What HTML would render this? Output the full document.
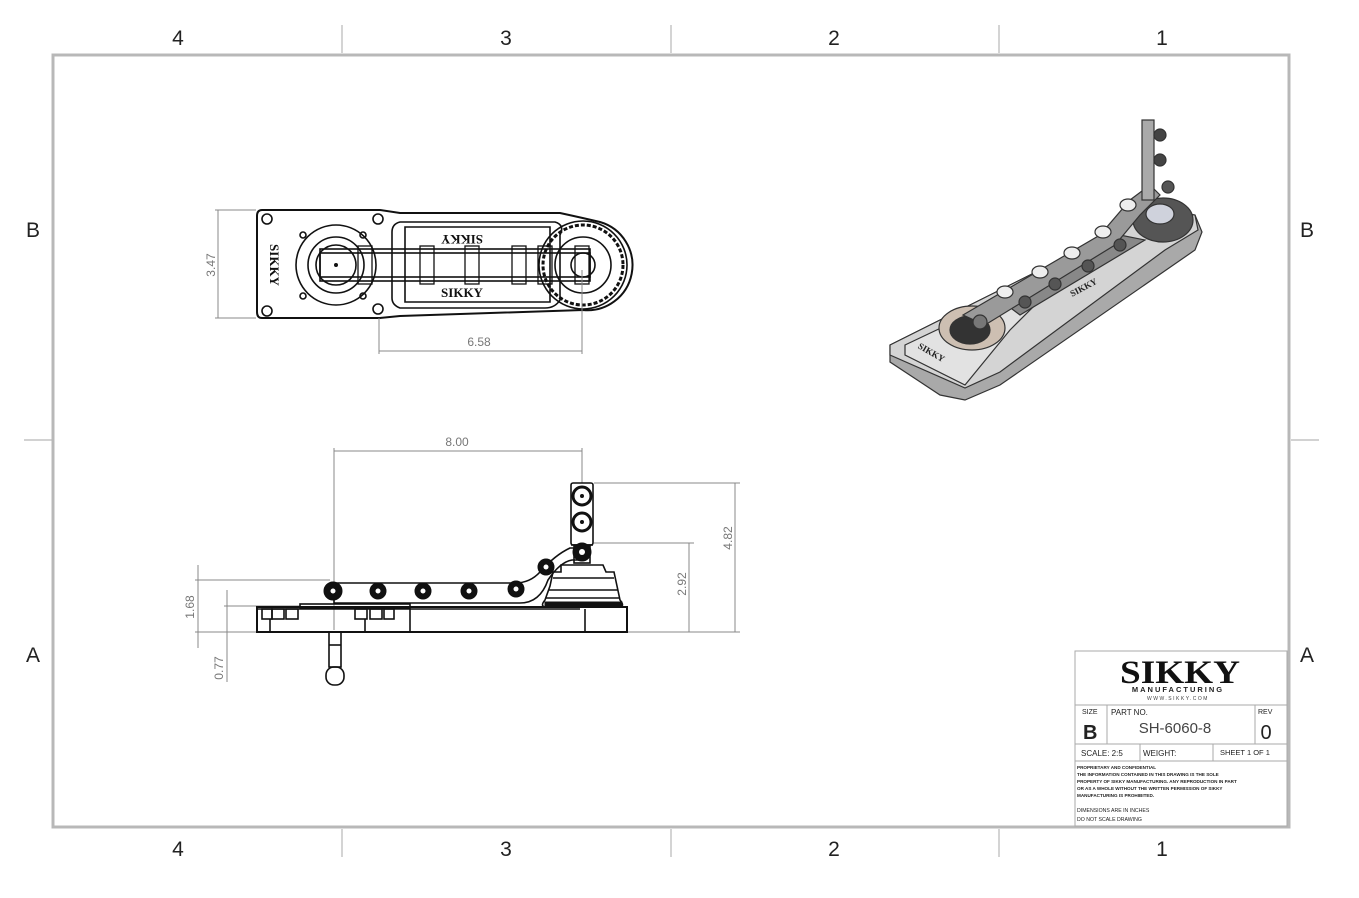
<!DOCTYPE html>
<html><head><meta charset="utf-8"><style>
html,body{margin:0;padding:0;background:#fff;}
svg{display:block;font-family:"Liberation Sans",sans-serif;}
</style></head><body>
<svg width="1359" height="898" viewBox="0 0 1359 898" xmlns="http://www.w3.org/2000/svg">
<rect width="1359" height="898" fill="#fff"/>
<rect x="53" y="55" width="1236" height="772" fill="none" stroke="#b8b8b8" stroke-width="3"/>
<g stroke="#b8b8b8" stroke-width="1.2">
<line x1="342" y1="25" x2="342" y2="53"/><line x1="671" y1="25" x2="671" y2="53"/><line x1="999" y1="25" x2="999" y2="53"/>
<line x1="342" y1="829" x2="342" y2="857"/><line x1="671" y1="829" x2="671" y2="857"/><line x1="999" y1="829" x2="999" y2="857"/>
<line x1="24" y1="440" x2="52" y2="440"/><line x1="1291" y1="440" x2="1319" y2="440"/>
</g>
<g font-size="21" fill="#222" text-anchor="middle">
<text x="178" y="45">4</text><text x="506" y="45">3</text><text x="834" y="45">2</text><text x="1162" y="45">1</text>
<text x="178" y="856">4</text><text x="506" y="856">3</text><text x="834" y="856">2</text><text x="1162" y="856">1</text>
<text x="33" y="237">B</text><text x="1307" y="237">B</text><text x="33" y="662">A</text><text x="1307" y="662">A</text>
</g>

<!-- TOP VIEW -->
<g fill="none" stroke="#111" stroke-width="1.6">
<path d="M262 210 H380 L400 213 H560 Q583 218 600 222 A45 45 0 0 1 583 310 L400 316 L380 318 H262 Q257 318 257 312 V216 Q257 210 262 210Z" stroke-width="2"/>
<circle cx="583" cy="265" r="44"/><circle cx="583" cy="265" r="40" stroke-dasharray="4 2" stroke-width="3"/>
<circle cx="583" cy="265" r="28"/><circle cx="583" cy="265" r="12"/>
<circle cx="336" cy="265" r="40"/><circle cx="336" cy="265" r="28"/><circle cx="336" cy="265" r="20"/>
<path d="M400 222 H555 Q565 225 560 235 V300 Q555 308 545 308 H400 Q392 305 392 298 V232 Q392 224 400 222Z"/>
<path d="M405 227 H550 V302 H405Z"/>
<rect x="320" y="253" width="270" height="24"/>
<rect x="320" y="249" width="270" height="32"/>
<g stroke-width="1.3">
<rect x="358" y="246" width="14" height="38"/><rect x="420" y="246" width="14" height="38"/><rect x="465" y="246" width="14" height="38"/><rect x="512" y="246" width="14" height="38"/><rect x="538" y="246" width="14" height="38"/><rect x="575" y="246" width="14" height="38"/>
</g>
<circle cx="267" cy="219" r="5"/><circle cx="267" cy="311" r="5"/><circle cx="378" cy="219" r="5"/><circle cx="378" cy="309" r="5"/>
<circle cx="303" cy="235" r="3"/><circle cx="303" cy="296" r="3"/><circle cx="363" cy="235" r="3"/><circle cx="363" cy="296" r="3"/>
</g>
<g font-family="Liberation Serif,serif" font-weight="bold" font-size="13" fill="#111">
<text x="462" y="243" text-anchor="middle" transform="rotate(180 462 239)">SIKKY</text>
<text x="462" y="297" text-anchor="middle">SIKKY</text>
<text x="270" y="265" text-anchor="middle" transform="rotate(90 270 265)">SIKKY</text>
</g>
<circle cx="336" cy="265" r="2" fill="#111"/>
<g stroke="#888" stroke-width="1" fill="none">
<line x1="215" y1="210" x2="256" y2="210"/><line x1="215" y1="318" x2="256" y2="318"/><line x1="218" y1="210" x2="218" y2="318"/>
<line x1="379" y1="318" x2="379" y2="354"/><line x1="582" y1="270" x2="582" y2="354"/><line x1="379" y1="351" x2="582" y2="351"/>
</g>
<g fill="#777" font-size="12" text-anchor="middle">
<text x="215" y="265" transform="rotate(-90 215 265)">3.47</text>
<text x="479" y="346">6.58</text>
</g>

<!-- SIDE VIEW -->
<g stroke="#888" stroke-width="1" fill="none">
<line x1="334" y1="448" x2="334" y2="630"/><line x1="582" y1="448" x2="582" y2="483"/><line x1="334" y1="451" x2="582" y2="451"/>
<line x1="594" y1="483" x2="740" y2="483"/><line x1="735" y1="483" x2="735" y2="632"/>
<line x1="594" y1="543" x2="694" y2="543"/><line x1="689" y1="543" x2="689" y2="632"/>
<line x1="628" y1="632" x2="740" y2="632"/>
<line x1="195" y1="580" x2="330" y2="580"/><line x1="198" y1="565" x2="198" y2="648"/>
<line x1="195" y1="632" x2="256" y2="632"/>
<line x1="224" y1="606" x2="300" y2="606"/><line x1="227" y1="590" x2="227" y2="682"/>
</g>
<g fill="#777" font-size="12" text-anchor="middle">
<text x="457" y="446">8.00</text>
<text x="732" y="538" transform="rotate(-90 732 538)">4.82</text>
<text x="686" y="584" transform="rotate(-90 686 584)">2.92</text>
<text x="194" y="607" transform="rotate(-90 194 607)">1.68</text>
<text x="223" y="668" transform="rotate(-90 223 668)">0.77</text>
</g>
<g stroke="#111" stroke-width="1.6" fill="none">
<rect x="257" y="607" width="370" height="25" stroke-width="2"/>
<line x1="257" y1="609" x2="580" y2="609"/>
<line x1="410" y1="609" x2="410" y2="632"/><line x1="585" y1="609" x2="585" y2="632"/>
<rect x="262" y="609" width="10" height="10"/><rect x="272" y="609" width="12" height="10"/><rect x="286" y="609" width="12" height="10"/>
<rect x="355" y="609" width="12" height="10"/><rect x="370" y="609" width="12" height="10"/><rect x="384" y="609" width="10" height="10"/>
<line x1="270" y1="619" x2="270" y2="632"/><line x1="365" y1="619" x2="365" y2="632"/>
<rect x="300" y="604" width="110" height="4"/>
<path d="M334 583 H515 Q530 583 540 572 Q555 555 570 548 H584 V560 H572 Q560 562 548 580 Q540 603 520 603 H334Z"/>
<rect x="571" y="483" width="22" height="62" rx="2"/>
<line x1="571" y1="545" x2="593" y2="545"/><rect x="574" y="545" width="16" height="18"/>
<path d="M561 565 H603 L606 572 H614 L617 586 L620 600 Q625 606 620 607 H545 Q540 606 545 600 L550 586 L553 572 H561Z"/>
<line x1="553" y1="578" x2="614" y2="578"/><line x1="549" y1="590" x2="618" y2="590"/><line x1="546" y1="598" x2="620" y2="598"/>
<rect x="329" y="632" width="12" height="35"/><line x1="329" y1="645" x2="341" y2="645"/>
<rect x="326" y="667" width="18" height="18" rx="8"/>
</g>
<g fill="#111" stroke="#111">
<circle cx="333" cy="591" r="9"/><circle cx="378" cy="591" r="8"/><circle cx="423" cy="591" r="8"/><circle cx="469" cy="591" r="8"/><circle cx="516" cy="589" r="8"/><circle cx="546" cy="567" r="8"/><circle cx="582" cy="552" r="9"/>
<circle cx="582" cy="496" r="9" fill="none" stroke-width="3"/><circle cx="582" cy="522" r="9" fill="none" stroke-width="3"/>
<path d="M545 602 H622 V607 H545Z"/>
</g>
<g fill="#fff"><circle cx="333" cy="591" r="2.5"/><circle cx="378" cy="591" r="2.5"/><circle cx="423" cy="591" r="2.5"/><circle cx="469" cy="591" r="2.5"/><circle cx="516" cy="589" r="2.5"/><circle cx="546" cy="567" r="2.5"/><circle cx="582" cy="552" r="3"/></g>
<circle cx="582" cy="496" r="2" fill="#111"/><circle cx="582" cy="522" r="2" fill="#111"/>

<!-- ISO VIEW -->
<g stroke="#333" stroke-width="1.2">
<path d="M890 345 L1160 210 L1195 215 L1202 232 L1195 250 L1000 385 L965 400 L940 395 L890 362Z" fill="#a9a9a9"/>
<path d="M890 345 L1160 210 L1195 215 L1198 230 L1165 250 L1000 372 L965 388 L890 355Z" fill="#d4d4d4"/>
<path d="M905 345 L1000 300 L1035 305 L1010 330 L965 385 L905 355Z" fill="#e2e2e2"/>
<ellipse cx="972" cy="328" rx="33" ry="22" fill="#cdbfb2"/>
<ellipse cx="970" cy="330" rx="20" ry="14" fill="#333"/>
<ellipse cx="1163" cy="220" rx="30" ry="22" fill="#555"/>
<ellipse cx="1160" cy="214" rx="14" ry="10" fill="#cfd2dc"/>
<path d="M1000 300 L1120 235 L1145 240 L1020 315Z" fill="#888"/>
<path d="M963 315 L1100 235 L1130 200 L1150 185 L1160 195 L1140 215 L1115 245 L985 325Z" fill="#9a9a9a"/>
<rect x="1142" y="120" width="12" height="80" fill="#aaa"/>
<circle cx="1160" cy="135" r="6" fill="#444"/><circle cx="1160" cy="160" r="6" fill="#444"/>
<circle cx="980" cy="322" r="7" fill="#777"/>
<circle cx="1025" cy="302" r="6" fill="#555"/><circle cx="1055" cy="284" r="6" fill="#555"/><circle cx="1088" cy="266" r="6" fill="#555"/><circle cx="1120" cy="245" r="6" fill="#555"/><circle cx="1168" cy="187" r="6" fill="#555"/>
<ellipse cx="1005" cy="292" rx="8" ry="6" fill="#eee"/><ellipse cx="1040" cy="272" rx="8" ry="6" fill="#eee"/><ellipse cx="1072" cy="253" rx="8" ry="6" fill="#eee"/><ellipse cx="1103" cy="232" rx="8" ry="6" fill="#eee"/><ellipse cx="1128" cy="205" rx="8" ry="6" fill="#eee"/>
</g>
<text x="1085" y="290" font-size="9" font-weight="bold" transform="rotate(-28 1085 290)" text-anchor="middle" font-family="Liberation Serif,serif" fill="#222">SIKKY</text>
<text x="930" y="355" font-size="9" font-weight="bold" transform="rotate(30 930 355)" text-anchor="middle" font-family="Liberation Serif,serif" fill="#222">SIKKY</text>

<!-- TITLE BLOCK -->
<g fill="none" stroke="#aaa" stroke-width="1">
<rect x="1075" y="651" width="212" height="175"/>
<line x1="1075" y1="705" x2="1287" y2="705"/>
<line x1="1075" y1="744" x2="1287" y2="744"/>
<line x1="1075" y1="761" x2="1287" y2="761"/>
<line x1="1107" y1="705" x2="1107" y2="744"/>
<line x1="1255" y1="705" x2="1255" y2="744"/>
<line x1="1140" y1="744" x2="1140" y2="761"/>
<line x1="1213" y1="744" x2="1213" y2="761"/>
</g>
<text x="1180" y="683" font-family="Liberation Serif,serif" font-weight="bold" font-size="33" text-anchor="middle" fill="#111" textLength="120" lengthAdjust="spacingAndGlyphs">SIKKY</text>
<text x="1178" y="692" font-size="7.5" font-weight="bold" text-anchor="middle" fill="#222" letter-spacing="2">MANUFACTURING</text>
<text x="1178" y="700" font-size="5" text-anchor="middle" fill="#444" letter-spacing="1.5">WWW.SIKKY.COM</text>
<g fill="#222">
<text x="1082" y="714" font-size="7">SIZE</text>
<text x="1083" y="739" font-size="20" font-weight="bold">B</text>
<text x="1111" y="715" font-size="8">PART NO.</text>
<text x="1175" y="733" font-size="15" text-anchor="middle" fill="#444">SH-6060-8</text>
<text x="1258" y="714" font-size="7">REV</text>
<text x="1266" y="739" font-size="20" text-anchor="middle">0</text>
<text x="1081" y="756" font-size="8">SCALE: 2:5</text>
<text x="1143" y="756" font-size="8">WEIGHT:</text>
<text x="1220" y="755" font-size="7.5">SHEET 1 OF 1</text>
<g font-size="4.6" font-weight="bold">
<text x="1077" y="769">PROPRIETARY AND CONFIDENTIAL</text>
<text x="1077" y="776">THE INFORMATION CONTAINED IN THIS DRAWING IS THE SOLE</text>
<text x="1077" y="783">PROPERTY OF SIKKY MANUFACTURING.  ANY REPRODUCTION IN PART</text>
<text x="1077" y="790">OR AS A WHOLE WITHOUT THE WRITTEN PERMISSION OF SIKKY</text>
<text x="1077" y="797">MANUFACTURING IS PROHIBITED.</text>
<text x="1077" y="812" font-size="5.2" font-weight="normal">DIMENSIONS ARE IN INCHES</text>
<text x="1077" y="821" font-size="5.2" font-weight="normal">DO NOT SCALE DRAWING</text>
</g>
</g>
</svg>
</body></html>
